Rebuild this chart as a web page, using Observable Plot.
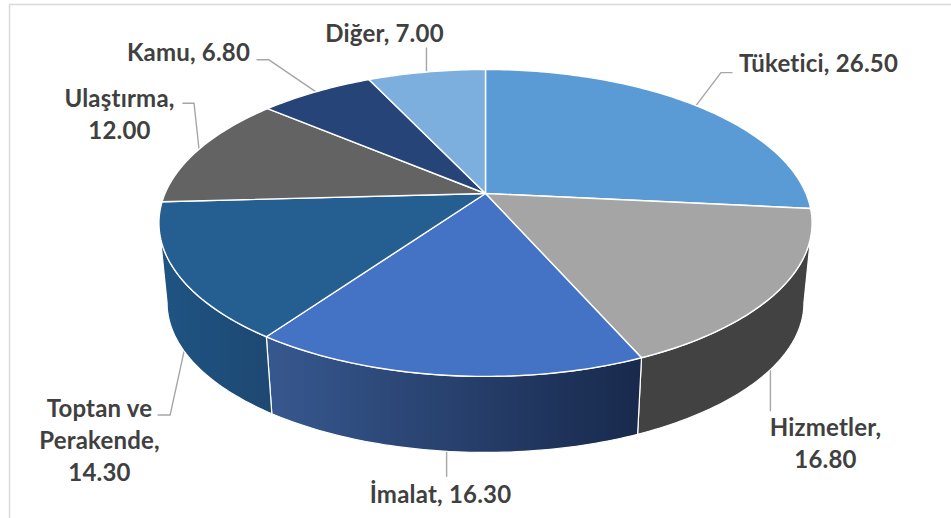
<!DOCTYPE html>
<html><head><meta charset="utf-8">
<script src="https://cdn.jsdelivr.net/npm/d3@7"></script>
<script src="https://cdn.jsdelivr.net/npm/@observablehq/plot@0.6"></script>
<style>html,body{margin:0;padding:0;background:#fff}svg{display:block}</style>
</head><body><div id="chart"></div>
<script>
// Data
const categories = ["Tüketici", "Hizmetler", "İmalat", "Toptan ve Perakende", "Ulaştırma", "Kamu", "Diğer"];
const values = [26.5, 16.8, 16.3, 14.3, 12.0, 6.8, 7.0];
const labelTexts = ["Tüketici, 26.50", "Hizmetler,\n16.80", "İmalat, 16.30", "Toptan ve\nPerakende,\n14.30", "Ulaştırma,\n12.00", "Kamu, 6.80", "Diğer, 7.00"];

// Style
const topColors = ["#5B9BD5", "#A5A5A5", "#4472C4", "#255E91", "#636363", "#264478", "#7CAFDD"];
const wallFills = ["#3a6d9c", "#424242", "url(#wallImalat)", "url(#wallToptan)", "#424242", "#1a2f54", "#5a80a8"];

// Layout: perspective disc
const W = 951, H = 518;
const cx = 485, cy = 193, a = 320.5, b = 147.8, k = 0.192, wallDrop = 80.6, wallScale = 0.975;
// label centres and leader elbows, relative to the anchor on the rim
const labelPos = [[818,63],[825,427],[440,494],[99,408],[119,98],[188,52],[384,33]];
const leaderBends = [
  [[25,-33],[36,-33]],
  [[0,41]],
  [[0,25]],
  [[-14,64],[-26,64]],
  [[-5,-46],[-16,-46]],
  [[-47,-32],[-59,-32]],
  [[0,-24]]
];

const total = d3.sum(values);
const cum = d3.cumsum(values);
const deg = t => t * Math.PI / 180;
const angleOf = v => v / total * 360;
const rim = (t, lower = false) => {
  const r = deg(t), den = 1 + k * Math.cos(r);
  const s = lower ? wallScale : 1, drop = lower ? wallDrop : 0;
  return { x: cx + s * a * Math.sin(r) / den, y: cy + drop - s * b * Math.cos(r) / den };
};
const slices = values.map((v, i) => {
  const t0 = i ? angleOf(cum[i - 1]) : 0, t1 = angleOf(cum[i]);
  return { i, t0, t1, mid: (t0 + t1) / 2 };
});
const arc = (t0, t1) => {
  const n = Math.max(2, Math.ceil(t1 - t0));
  return d3.range(n + 1).map(j => t0 + (t1 - t0) * j / n);
};
// the wall is seen only between the two widest points of the disc outline
const sideAngle = Math.acos(-k) * 180 / Math.PI;
const topPoly = s => [{ x: cx, y: cy }, ...arc(s.t0, s.t1).map(t => rim(t))];
const wallPoly = s => {
  const ts = arc(Math.max(s.t0, sideAngle), Math.min(s.t1, 360 - sideAngle));
  return [...ts.map(t => rim(t)), ...ts.slice().reverse().map(t => rim(t, true))];
};

const front = slices.filter(s => s.mid > 90 && s.mid < 270);

const defs = () => {
  const d = d3.create("svg:defs");
  const grad = (id, from, to) => {
    const g = d.append("linearGradient").attr("id", id);
    g.append("stop").attr("offset", 0).attr("stop-color", from);
    g.append("stop").attr("offset", 1).attr("stop-color", to);
  };
  grad("wallImalat", "#37588F", "#18294C");
  grad("wallToptan", "#1F5483", "#1D4872");
  return d.node();
};

const leaderAnchor = s => s.mid > 90 && s.mid < 270 ? rim(s.mid, true) : rim(s.mid);
const leaders = slices.map(s => {
  const p = leaderAnchor(s);
  return [p, ...leaderBends[s.i].map(([dx, dy]) => ({ x: p.x + dx, y: p.y + dy }))];
});
const labels = slices.map(s => ({ x: labelPos[s.i][0], y: labelPos[s.i][1], text: labelTexts[s.i] }));

const plot = Plot.plot({
  width: W, height: H, margin: 0,
  x: { domain: [0, W], range: [0, W], axis: null },
  y: { domain: [0, H], range: [0, H], axis: null },
  style: { letterSpacing: "0.2px" },
  marks: [
    defs,
    Plot.line([{ x: 9, y: H }, { x: 9, y: 4 }, { x: W, y: 4 }], { x: "x", y: "y", stroke: "#d9d9d9", strokeWidth: 1.5 }),
    ...leaders.map(l => Plot.line(l, { x: "x", y: "y", stroke: "#a6a6a6", strokeWidth: 1.4 })),
    ...front.map(s => Plot.line(wallPoly(s), { x: "x", y: "y", curve: "linear-closed", fill: wallFills[s.i], stroke: "white", strokeWidth: 1.2 })),
    ...slices.map(s => Plot.line(topPoly(s), { x: "x", y: "y", curve: "linear-closed", fill: topColors[s.i], stroke: "white", strokeWidth: 1.4 })),
    Plot.text(labels, { x: "x", y: "y", text: "text", lineAnchor: "top", dy: -15, lineHeight: 1.35, fontFamily: "Lato", fontWeight: "bold", fontSize: 24, fill: "#404040", textAnchor: "middle" })
  ]
});
document.getElementById("chart").append(plot);
</script></body></html>
